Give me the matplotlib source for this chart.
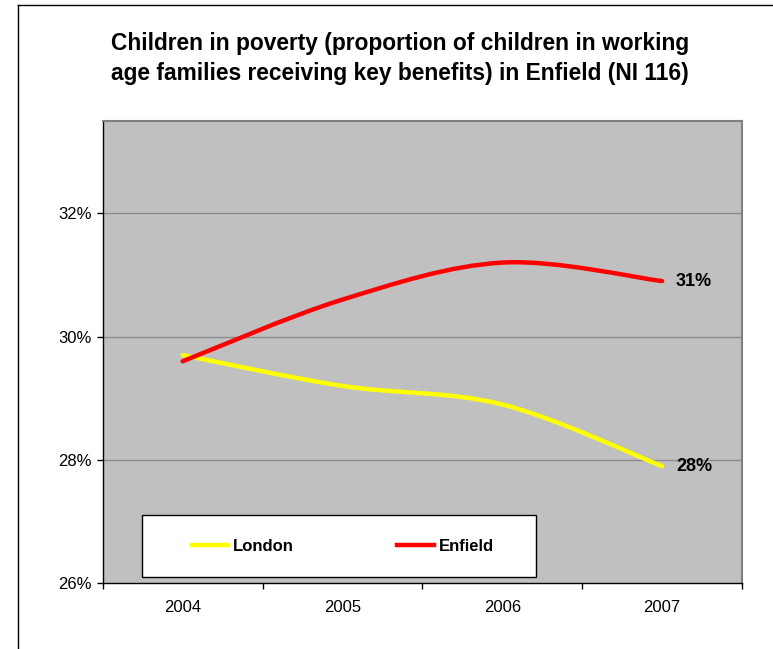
import matplotlib.pyplot as plt
from matplotlib.path import Path
from matplotlib.patches import PathPatch, Rectangle
from matplotlib.lines import Line2D

# Data
years = ['2004', '2005', '2006', '2007']
london = [29.7, 29.2, 28.9, 27.9]
enfield = [29.6, 30.6, 31.2, 30.9]
y_ticks = [26, 28, 30, 32]

plt.rcParams['font.family'] = ['Liberation Sans', 'DejaVu Sans']


def smooth_path(xs, ys):
    # Bezier segments through every point (Catmull-Rom style tangents)
    pts = list(zip(xs, ys))
    n = len(pts)
    verts = [pts[0]]
    codes = [Path.MOVETO]
    for i in range(n - 1):
        p0 = pts[max(i - 1, 0)]
        p1 = pts[i]
        p2 = pts[i + 1]
        p3 = pts[min(i + 2, n - 1)]
        c1 = (p1[0] + (p2[0] - p0[0]) / 6, p1[1] + (p2[1] - p0[1]) / 6)
        c2 = (p2[0] - (p3[0] - p1[0]) / 6, p2[1] - (p3[1] - p1[1]) / 6)
        verts += [c1, c2, p2]
        codes += [Path.CURVE4] * 3
    return Path(verts, codes)


fig = plt.figure(figsize=(7.73, 6.49), dpi=100)
ax = fig.add_axes([0.1329, 0.1012, 0.827, 0.7128])
ax.set_facecolor('#C0C0C0')

x = list(range(len(years)))
series = [('London', london, '#FFFF00'), ('Enfield', enfield, '#FF0000')]
for name, vals, col in series:
    ax.add_patch(PathPatch(smooth_path(x, vals), facecolor='none', edgecolor=col,
                           lw=3.2, capstyle='round', zorder=3))
    ax.annotate(f'{vals[-1]:.0f}%', (x[-1], vals[-1]), xytext=(10, 0),
                textcoords='offset points', va='center', ha='left',
                fontsize=13, fontweight='bold', zorder=4)

# Axes
ax.set_xlim(-0.5, len(years) - 0.5)
ax.set_ylim(26, 33.5)
ax.set_yticks(y_ticks)
ax.set_yticklabels([f'{t}%' for t in y_ticks], fontsize=12)
ax.set_xticks([i - 0.5 for i in range(len(years) + 1)])
ax.set_xticklabels([])
ax.set_xticks(x, minor=True)
ax.set_xticklabels(years, minor=True, fontsize=12)
ax.tick_params(axis='x', which='major', direction='out', length=4, width=1)
ax.tick_params(axis='x', which='minor', length=0, pad=12)
ax.tick_params(axis='y', direction='out', length=4, width=1, pad=4)

for t in y_ticks[1:]:
    ax.axhline(t, color='#8C8C8C', lw=1, zorder=1)

for side in ['top', 'right']:
    ax.spines[side].set_color('#808080')
    ax.spines[side].set_linewidth(1.5)
for side in ['left', 'bottom']:
    ax.spines[side].set_color('black')
    ax.spines[side].set_linewidth(1)

# Legend box
ax.add_patch(Rectangle((0.0615, 0.0136), 0.6165, 0.134, transform=ax.transAxes,
                       facecolor='white', edgecolor='black', lw=1, zorder=5))
handles = [Line2D([], [], color=col, lw=3.2) for _, _, col in series]
leg = ax.legend(handles, [s[0] for s in series], loc='center',
                bbox_to_anchor=(0.0615 + 0.6165 / 2 + 0.006, 0.0136 + 0.134 / 2),
                ncol=2, frameon=False, handlelength=2.2, handletextpad=0.3,
                columnspacing=6.2, prop={'weight': 'bold', 'size': 12})
leg.set_zorder(6)

# Title
fig.text(0.517, 0.910, 'Children in poverty (proportion of children in working\n'
         'age families receiving key benefits) in Enfield (NI 116)',
         ha='center', va='center', fontsize=16.4, fontweight='bold', linespacing=1.4)

# Outer frame
fig.add_artist(Line2D([18 / 773, 1], [1 - 5 / 649, 1 - 5 / 649], color='black', lw=1,
                      transform=fig.transFigure))
fig.add_artist(Line2D([18 / 773, 18 / 773], [0, 1 - 5 / 649], color='black', lw=1,
                      transform=fig.transFigure))

fig.savefig('out.png', dpi=100)
